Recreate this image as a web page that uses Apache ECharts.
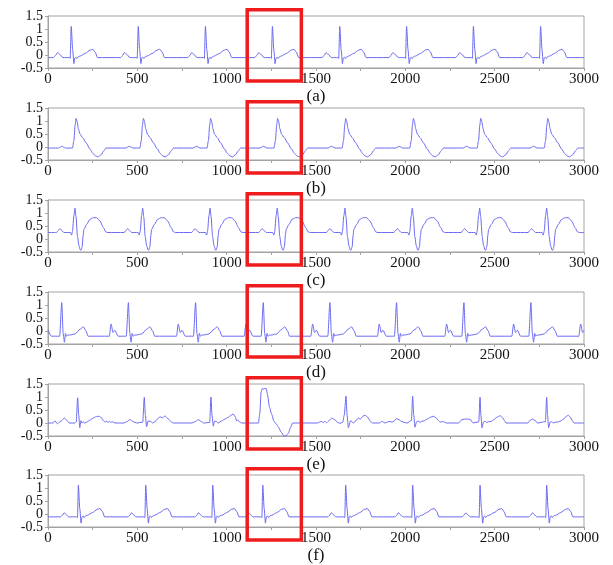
<!DOCTYPE html>
<html>
<head>
<meta charset="utf-8">
<script src="https://cdn.jsdelivr.net/npm/echarts@6/dist/echarts.min.js"></script>
<style>
html,body{margin:0;padding:0;background:#fff;}
#chart{width:613px;height:565px;}
</style>
</head>
<body>
<div id="chart"></div>
<script>
// ---- data ----
const panelLabels = ['(a)', '(b)', '(c)', '(d)', '(e)', '(f)'];
const xRange = [0, 3000];
const yRange = [-0.5, 1.5];
const xLabelStep = 500;
const xTickStep = 250;
const yTickStep = 0.5;
const highlightX = [1115, 1418];
const highlightY = [-1.0, 1.74];

const ecgA = [[0,-0.1],
[31,-0.1],[42,-0.02],[53,0.09],[65,0.03],[83,-0.1],[119,-0.1],[124,-0.13],[130,1.1],[138,0.2],[145,-0.33],[150,-0.12],[156,-0.08],[162,-0.14],[170,-0.06],[180,-0.04],[208,0.06],[236,0.19],[251,0.22],[264,0.11],[277,-0.1],
[406,-0.1],[417,-0.02],[428,0.09],[440,0.03],[458,-0.1],[494,-0.1],[499,-0.13],[505,1.1],[513,0.2],[520,-0.33],[525,-0.12],[531,-0.08],[537,-0.14],[545,-0.06],[555,-0.04],[583,0.06],[611,0.19],[626,0.22],[639,0.11],[652,-0.1],
[782,-0.1],[793,-0.02],[804,0.09],[816,0.03],[834,-0.1],[870,-0.1],[875,-0.13],[881,1.1],[889,0.2],[896,-0.33],[901,-0.12],[907,-0.08],[913,-0.14],[921,-0.06],[931,-0.04],[959,0.06],[987,0.19],[1002,0.22],[1015,0.11],[1028,-0.1],
[1157,-0.1],[1168,-0.02],[1179,0.09],[1191,0.03],[1209,-0.1],[1245,-0.1],[1250,-0.13],[1256,1.1],[1264,0.2],[1271,-0.33],[1276,-0.12],[1282,-0.08],[1288,-0.14],[1296,-0.06],[1306,-0.04],[1334,0.06],[1362,0.19],[1377,0.22],[1390,0.11],[1403,-0.1],
[1534,-0.1],[1545,-0.02],[1556,0.09],[1568,0.03],[1586,-0.1],[1622,-0.1],[1627,-0.13],[1633,1.1],[1641,0.2],[1648,-0.33],[1653,-0.12],[1659,-0.08],[1665,-0.14],[1673,-0.06],[1683,-0.04],[1711,0.06],[1739,0.19],[1754,0.22],[1767,0.11],[1780,-0.1],
[1908,-0.1],[1919,-0.02],[1930,0.09],[1942,0.03],[1960,-0.1],[1996,-0.1],[2001,-0.13],[2007,1.1],[2015,0.2],[2022,-0.33],[2027,-0.12],[2033,-0.08],[2039,-0.14],[2047,-0.06],[2057,-0.04],[2085,0.06],[2113,0.19],[2128,0.22],[2141,0.11],[2154,-0.1],
[2282,-0.1],[2293,-0.02],[2304,0.09],[2316,0.03],[2334,-0.1],[2370,-0.1],[2375,-0.13],[2381,1.1],[2389,0.2],[2396,-0.33],[2401,-0.12],[2407,-0.08],[2413,-0.14],[2421,-0.06],[2431,-0.04],[2459,0.06],[2487,0.19],[2502,0.22],[2515,0.11],[2528,-0.1],
[2658,-0.1],[2669,-0.02],[2680,0.09],[2692,0.03],[2710,-0.1],[2746,-0.1],[2751,-0.13],[2757,1.1],[2765,0.2],[2772,-0.33],[2777,-0.12],[2783,-0.08],[2789,-0.14],[2797,-0.06],[2807,-0.04],[2835,0.06],[2863,0.19],[2878,0.22],[2891,0.11],[2904,-0.1],
[3000,-0.1]];

const ecgB = [[0,-0.04],
[59,-0.04],[69,0.0],[77,0.03],[87,0.0],[97,-0.04],[137,-0.04],[145,0.25],[152,0.85],[157,1.1],[163,0.98],[170,0.7],[179,0.5],[194,0.36],[213,0.16],[235,-0.08],[252,-0.25],[265,-0.34],[279,-0.38],[297,-0.3],[312,-0.15],[325,-0.04],
[436,-0.04],[446,0.0],[454,0.03],[464,0.0],[474,-0.04],[514,-0.04],[522,0.25],[529,0.85],[534,1.1],[540,0.98],[547,0.7],[556,0.5],[571,0.36],[590,0.16],[612,-0.08],[629,-0.25],[642,-0.34],[656,-0.38],[674,-0.3],[689,-0.15],[702,-0.04],
[812,-0.04],[822,0.0],[830,0.03],[840,0.0],[850,-0.04],[890,-0.04],[898,0.25],[905,0.85],[910,1.1],[916,0.98],[923,0.7],[932,0.5],[947,0.36],[966,0.16],[988,-0.08],[1005,-0.25],[1018,-0.34],[1032,-0.38],[1050,-0.3],[1065,-0.15],[1078,-0.04],
[1187,-0.04],[1197,0.0],[1205,0.03],[1215,0.0],[1225,-0.04],[1265,-0.04],[1273,0.25],[1280,0.85],[1285,1.1],[1291,0.98],[1298,0.7],[1307,0.5],[1322,0.36],[1341,0.16],[1363,-0.08],[1380,-0.25],[1393,-0.34],[1407,-0.38],[1425,-0.3],[1440,-0.15],[1453,-0.04],
[1568,-0.04],[1578,0.0],[1586,0.03],[1596,0.0],[1606,-0.04],[1646,-0.04],[1654,0.25],[1661,0.85],[1666,1.1],[1672,0.98],[1679,0.7],[1688,0.5],[1703,0.36],[1722,0.16],[1744,-0.08],[1761,-0.25],[1774,-0.34],[1788,-0.38],[1806,-0.3],[1821,-0.15],[1834,-0.04],
[1947,-0.04],[1957,0.0],[1965,0.03],[1975,0.0],[1985,-0.04],[2025,-0.04],[2033,0.25],[2040,0.85],[2045,1.1],[2051,0.98],[2058,0.7],[2067,0.5],[2082,0.36],[2101,0.16],[2123,-0.08],[2140,-0.25],[2153,-0.34],[2167,-0.38],[2185,-0.3],[2200,-0.15],[2213,-0.04],
[2324,-0.04],[2334,0.0],[2342,0.03],[2352,0.0],[2362,-0.04],[2402,-0.04],[2410,0.25],[2417,0.85],[2422,1.1],[2428,0.98],[2435,0.7],[2444,0.5],[2459,0.36],[2478,0.16],[2500,-0.08],[2517,-0.25],[2530,-0.34],[2544,-0.38],[2562,-0.3],[2577,-0.15],[2590,-0.04],
[2699,-0.04],[2709,0.0],[2717,0.03],[2727,0.0],[2737,-0.04],[2777,-0.04],[2785,0.25],[2792,0.85],[2797,1.1],[2803,0.98],[2810,0.7],[2819,0.5],[2834,0.36],[2853,0.16],[2875,-0.08],[2892,-0.25],[2905,-0.34],[2919,-0.38],[2937,-0.3],[2952,-0.15],[2965,-0.04],
[3000,-0.04]];

const ecgC = [[0,0.25],
[48,0.25],[57,0.33],[67,0.4],[78,0.32],[89,0.25],[125,0.25],[132,0.15],[137,0.3],[145,0.9],[151,1.19],[157,0.85],[165,0.1],[173,-0.25],[181,-0.42],[185,-0.43],[191,-0.3],[197,0.15],[201,0.37],[216,0.56],[235,0.76],[254,0.82],[272,0.82],[291,0.69],[310,0.44],[324,0.27],[336,0.25],
[427,0.25],[436,0.33],[446,0.4],[457,0.32],[468,0.25],[504,0.25],[511,0.15],[516,0.3],[524,0.9],[530,1.19],[536,0.85],[544,0.1],[552,-0.25],[560,-0.42],[564,-0.43],[570,-0.3],[576,0.15],[580,0.37],[595,0.56],[614,0.76],[633,0.82],[651,0.82],[670,0.69],[689,0.44],[703,0.27],[715,0.25],
[804,0.25],[813,0.33],[823,0.4],[834,0.32],[845,0.25],[881,0.25],[888,0.15],[893,0.3],[901,0.9],[907,1.19],[913,0.85],[921,0.1],[929,-0.25],[937,-0.42],[941,-0.43],[947,-0.3],[953,0.15],[957,0.37],[972,0.56],[991,0.76],[1010,0.82],[1028,0.82],[1047,0.69],[1066,0.44],[1080,0.27],[1092,0.25],
[1180,0.25],[1189,0.33],[1199,0.4],[1210,0.32],[1221,0.25],[1257,0.25],[1264,0.15],[1269,0.3],[1277,0.9],[1283,1.19],[1289,0.85],[1297,0.1],[1305,-0.25],[1313,-0.42],[1317,-0.43],[1323,-0.3],[1329,0.15],[1333,0.37],[1348,0.56],[1367,0.76],[1386,0.82],[1404,0.82],[1423,0.69],[1442,0.44],[1456,0.27],[1468,0.25],
[1559,0.25],[1568,0.33],[1578,0.4],[1589,0.32],[1600,0.25],[1636,0.25],[1643,0.15],[1648,0.3],[1656,0.9],[1662,1.19],[1668,0.85],[1676,0.1],[1684,-0.25],[1692,-0.42],[1696,-0.43],[1702,-0.3],[1708,0.15],[1712,0.37],[1727,0.56],[1746,0.76],[1765,0.82],[1783,0.82],[1802,0.69],[1821,0.44],[1835,0.27],[1847,0.25],
[1936,0.25],[1945,0.33],[1955,0.4],[1966,0.32],[1977,0.25],[2013,0.25],[2020,0.15],[2025,0.3],[2033,0.9],[2039,1.19],[2045,0.85],[2053,0.1],[2061,-0.25],[2069,-0.42],[2073,-0.43],[2079,-0.3],[2085,0.15],[2089,0.37],[2104,0.56],[2123,0.76],[2142,0.82],[2160,0.82],[2179,0.69],[2198,0.44],[2212,0.27],[2224,0.25],
[2313,0.25],[2322,0.33],[2332,0.4],[2343,0.32],[2354,0.25],[2390,0.25],[2397,0.15],[2402,0.3],[2410,0.9],[2416,1.19],[2422,0.85],[2430,0.1],[2438,-0.25],[2446,-0.42],[2450,-0.43],[2456,-0.3],[2462,0.15],[2466,0.37],[2481,0.56],[2500,0.76],[2519,0.82],[2537,0.82],[2556,0.69],[2575,0.44],[2589,0.27],[2601,0.25],
[2688,0.25],[2697,0.33],[2707,0.4],[2718,0.32],[2729,0.25],[2765,0.25],[2772,0.15],[2777,0.3],[2785,0.9],[2791,1.19],[2797,0.85],[2805,0.1],[2813,-0.25],[2821,-0.42],[2825,-0.43],[2831,-0.3],[2837,0.15],[2841,0.37],[2856,0.56],[2875,0.76],[2894,0.82],[2912,0.82],[2931,0.69],[2950,0.44],[2964,0.27],[2976,0.25],
[3000,0.25]];

const ecgD = [[0,0.05],[19,-0.2],
[65,-0.2],[77,1.09],[85,-0.1],[92,-0.43],[98,-0.09],[104,-0.2],[110,-0.16],[127,-0.15],[152,-0.11],[180,0.07],[198,0.16],[213,0.0],[224,-0.2],
[343,-0.2],[353,0.27],[364,-0.06],[374,0.03],[392,-0.2],[438,-0.2],[450,1.09],[458,-0.1],[465,-0.43],[471,-0.09],[477,-0.2],[483,-0.16],[500,-0.15],[525,-0.11],[553,0.07],[571,0.16],[586,0.0],[597,-0.2],
[719,-0.2],[729,0.27],[740,-0.06],[750,0.03],[768,-0.2],[814,-0.2],[826,1.09],[834,-0.1],[841,-0.43],[847,-0.09],[853,-0.2],[859,-0.16],[876,-0.15],[901,-0.11],[929,0.07],[947,0.16],[962,0.0],[973,-0.2],
[1098,-0.2],[1108,0.27],[1119,-0.06],[1129,0.03],[1147,-0.2],[1193,-0.2],[1205,1.09],[1213,-0.1],[1220,-0.43],[1226,-0.09],[1232,-0.2],[1238,-0.16],[1255,-0.15],[1280,-0.11],[1308,0.07],[1326,0.16],[1341,0.0],[1352,-0.2],
[1471,-0.2],[1481,0.27],[1492,-0.06],[1502,0.03],[1520,-0.2],[1566,-0.2],[1578,1.09],[1586,-0.1],[1593,-0.43],[1599,-0.09],[1605,-0.2],[1611,-0.16],[1628,-0.15],[1653,-0.11],[1681,0.07],[1699,0.16],[1714,0.0],[1725,-0.2],
[1844,-0.2],[1854,0.27],[1865,-0.06],[1875,0.03],[1893,-0.2],[1939,-0.2],[1951,1.09],[1959,-0.1],[1966,-0.43],[1972,-0.09],[1978,-0.2],[1984,-0.16],[2001,-0.15],[2026,-0.11],[2054,0.07],[2072,0.16],[2087,0.0],[2098,-0.2],
[2221,-0.2],[2231,0.27],[2242,-0.06],[2252,0.03],[2270,-0.2],[2316,-0.2],[2328,1.09],[2336,-0.1],[2343,-0.43],[2349,-0.09],[2355,-0.2],[2361,-0.16],[2378,-0.15],[2403,-0.11],[2431,0.07],[2449,0.16],[2464,0.0],[2475,-0.2],
[2596,-0.2],[2606,0.27],[2617,-0.06],[2627,0.03],[2645,-0.2],[2691,-0.2],[2703,1.09],[2711,-0.1],[2718,-0.43],[2724,-0.09],[2730,-0.2],[2736,-0.16],[2753,-0.15],[2778,-0.11],[2806,0.07],[2824,0.16],[2839,0.0],[2850,-0.2],
[2971,-0.2],[2981,0.27],[2992,-0.06],[3000,0.02]];

const ecgE = [[0,0],[28,0],[39,0.09],[52,-0.03],[63,0.03],[75,0.08],[91,0.19],[103,0.12],[118,0.0],[150,0.0],[158,0.04],[166,0.97],[172,0.3],[178,-0.18],[184,0.09],[190,0.0],[197,0.05],[205,0.0],[218,0.04],[233,0.1],[248,0.17],[261,0.22],[272,0.25],[285,0.26],[300,0.2],[312,0.07],[320,0.04],[328,0.07],[336,0.02],[344,0.06],[352,0.02],[360,0.05],[375,0.0],
[425,0.0],[440,0.05],[459,0.13],[478,0.05],[496,0.0],[530,0.03],[539,0.99],[545,0.3],[552,-0.14],[560,0.07],[571,0.07],[586,0.0],[599,0.05],[612,0.15],[627,0.24],[640,0.2],[655,0.27],[674,0.15],[692,0.03],[702,0.0],
[805,0.0],[823,0.05],[841,0.13],[860,0.05],[870,0.0],[905,0.02],[912,1.0],[918,0.3],[925,-0.12],[932,0.07],[940,0.07],[953,0.0],[972,0.08],[990,0.15],[1009,0.22],[1025,0.3],[1037,0.35],[1047,0.25],[1056,0.08],[1063,0.12],[1071,0.05],[1084,0.0],
[1178,0.0],[1185,0.35],[1193,1.2],[1200,1.33],[1207,1.3],[1214,1.33],[1222,1.32],[1228,1.1],[1240,0.6],[1252,0.33],[1265,0.06],[1278,-0.04],[1289,-0.15],[1305,-0.35],[1321,-0.5],[1333,-0.49],[1345,-0.4],[1357,-0.18],[1369,0.0],
[1510,0.0],[1520,0.04],[1532,0.06],[1541,0.01],[1550,0.07],[1559,0.01],[1572,0.08],[1588,0.19],[1607,0.12],[1620,0.02],[1634,-0.01],[1649,0.02],[1658,0.3],[1668,1.03],[1674,0.3],[1681,-0.18],[1694,0.09],[1709,0.0],[1722,0.08],[1737,0.19],[1748,0.15],[1762,0.26],[1774,0.3],[1790,0.22],[1805,0.06],[1817,0.0],
[1855,0.0],[1868,0.06],[1886,0.0],[1900,0.04],[1914,0.06],[1926,0.03],[1938,0.08],[1951,0.17],[1965,0.12],[1979,0.06],[1994,0.02],[2010,0.0],[2034,0.1],[2041,1.03],[2047,0.3],[2054,-0.16],[2063,0.05],[2073,0.07],[2083,0.02],[2092,0.07],[2105,0.08],[2120,0.14],[2140,0.22],[2157,0.26],[2172,0.2],[2185,0.1],[2194,0.04],[2204,0.04],[2213,0.06],[2222,0.02],[2231,0.0],
[2298,0.0],[2315,0.12],[2330,0.15],[2348,0.15],[2362,0.14],[2380,0.0],[2411,0.05],[2418,0.99],[2423,0.3],[2429,-0.18],[2437,0.04],[2446,0.07],[2455,0.02],[2465,0.05],[2480,0.06],[2493,0.12],[2512,0.22],[2530,0.28],[2545,0.2],[2556,0.08],[2563,0.0],
[2685,0.0],[2698,0.1],[2711,0.15],[2726,0.1],[2739,0.0],[2784,0.05],[2791,0.99],[2796,0.3],[2802,-0.18],[2810,0.03],[2819,0.05],[2828,0.0],[2838,0.03],[2855,0.04],[2870,0.08],[2884,0.14],[2900,0.25],[2912,0.3],[2924,0.22],[2935,0.08],[2944,0.0],
[3000,0.0]];

const ecgF = [[0,-0.11],
[70,-0.11],[80,-0.05],[91,0.05],[102,-0.03],[115,-0.11],[159,-0.11],[165,-0.14],[170,1.11],[178,0.2],[185,-0.35],[190,-0.12],[196,-0.07],[202,-0.14],[210,-0.07],[220,-0.05],[248,0.05],[276,0.18],[291,0.21],[304,0.1],[317,-0.11],
[447,-0.11],[457,-0.05],[468,0.05],[479,-0.03],[492,-0.11],[536,-0.11],[542,-0.14],[547,1.11],[555,0.2],[562,-0.35],[567,-0.12],[573,-0.07],[579,-0.14],[587,-0.07],[597,-0.05],[625,0.05],[653,0.18],[668,0.21],[681,0.1],[694,-0.11],
[822,-0.11],[832,-0.05],[843,0.05],[854,-0.03],[867,-0.11],[911,-0.11],[917,-0.14],[922,1.11],[930,0.2],[937,-0.35],[942,-0.12],[948,-0.07],[954,-0.14],[962,-0.07],[972,-0.05],[1000,0.05],[1028,0.18],[1043,0.21],[1056,0.1],[1069,-0.11],
[1102,-0.11],[1112,-0.05],[1123,0.05],[1134,-0.03],[1147,-0.11],[1191,-0.11],[1197,-0.14],[1202,1.11],[1210,0.2],[1217,-0.35],[1222,-0.12],[1228,-0.07],[1234,-0.14],[1242,-0.07],[1252,-0.05],[1280,0.05],[1308,0.18],[1323,0.21],[1336,0.1],[1349,-0.11],
[1566,-0.11],[1576,-0.05],[1587,0.05],[1598,-0.03],[1611,-0.11],[1655,-0.11],[1661,-0.14],[1666,1.11],[1674,0.2],[1681,-0.35],[1686,-0.12],[1692,-0.07],[1698,-0.14],[1706,-0.07],[1716,-0.05],[1744,0.05],[1772,0.18],[1787,0.21],[1800,0.1],[1813,-0.11],
[1941,-0.11],[1951,-0.05],[1962,0.05],[1973,-0.03],[1986,-0.11],[2030,-0.11],[2036,-0.14],[2041,1.11],[2049,0.2],[2056,-0.35],[2061,-0.12],[2067,-0.07],[2073,-0.14],[2081,-0.07],[2091,-0.05],[2119,0.05],[2147,0.18],[2162,0.21],[2175,0.1],[2188,-0.11],
[2318,-0.11],[2328,-0.05],[2339,0.05],[2350,-0.03],[2363,-0.11],[2407,-0.11],[2413,-0.14],[2418,1.11],[2426,0.2],[2433,-0.35],[2438,-0.12],[2444,-0.07],[2450,-0.14],[2458,-0.07],[2468,-0.05],[2496,0.05],[2524,0.18],[2539,0.21],[2552,0.1],[2565,-0.11],
[2691,-0.11],[2701,-0.05],[2712,0.05],[2723,-0.03],[2736,-0.11],[2780,-0.11],[2786,-0.14],[2791,1.11],[2799,0.2],[2806,-0.35],[2811,-0.12],[2817,-0.07],[2823,-0.14],[2831,-0.07],[2841,-0.05],[2869,0.05],[2897,0.18],[2912,0.21],[2925,0.1],[2938,-0.11],
[3000,-0.11]];

const panelSeries = [ecgA, ecgB, ecgC, ecgD, ecgE, ecgF];

// ---- layout / style ----
const gridTops = [16, 108, 200, 292, 384, 475];
const gridHeight = 52;
const serif = 'Liberation Serif';
const lineColor = '#6a6af2';
const frameColor = '#a3a3a3';

const grids = [], xAxes = [], yAxes = [], series = [];
const yLabelStyle = {fontFamily: serif, fontSize: 14, color: '#111', margin: 5, lineHeight: 12,
  showMinLabel: true, showMaxLabel: true, hideOverlap: false};
panelSeries.forEach((data, i) => {
  grids.push({left: 48, right: 29, top: gridTops[i], height: gridHeight,
    show: true, borderColor: frameColor, borderWidth: 1, backgroundColor: 'transparent'});
  xAxes.push({
    type: 'value', gridIndex: i, min: xRange[0], max: xRange[1], interval: xTickStep,
    name: panelLabels[i], nameLocation: 'middle', nameGap: 18,
    nameTextStyle: {fontFamily: serif, fontSize: 17, color: '#111'},
    axisLine: {show: true, onZero: false, lineStyle: {color: frameColor, width: 1}},
    axisTick: {show: true, inside: false, length: 3, lineStyle: {color: frameColor}},
    splitLine: {show: false},
    axisLabel: {fontFamily: serif, fontSize: 15, color: '#111', margin: 4,
      showMinLabel: true, showMaxLabel: true,
      formatter: v => (v % xLabelStep === 0 ? String(v) : '')}
  });
  // main y axis: labels at odd half-steps (1.5, 0.5, -0.5)
  yAxes.push({
    type: 'value', gridIndex: i, min: yRange[0], max: yRange[1], interval: yTickStep,
    axisLine: {show: true, onZero: false, lineStyle: {color: frameColor, width: 1}},
    axisTick: {show: true, inside: false, length: 3, lineStyle: {color: frameColor}},
    splitLine: {show: false},
    axisLabel: Object.assign({}, yLabelStyle, {formatter: v => (Math.abs(v % 1) > 0.25 ? String(v) : '')})
  });
  // companion y axis carrying the integer labels (1, 0) so tight labels are not culled
  yAxes.push({
    type: 'value', gridIndex: i, position: 'left', offset: 0,
    min: yRange[0], max: yRange[1], interval: yTickStep,
    axisLine: {show: false, onZero: false}, axisTick: {show: false}, splitLine: {show: false},
    axisLabel: Object.assign({}, yLabelStyle, {formatter: v => (Math.abs(v % 1) < 0.25 ? String(v) : '')})
  });
  series.push({
    type: 'line', xAxisIndex: i, yAxisIndex: 2 * i, data: data,
    showSymbol: false, symbol: 'none', smooth: 0.25, smoothMonotone: 'x',
    lineStyle: {color: lineColor, width: 1}, z: 2, silent: true
  });
  series.push({
    type: 'line', xAxisIndex: i, yAxisIndex: 2 * i, clip: false,
    data: [[highlightX[0], highlightY[1]], [highlightX[1], highlightY[1]],
           [highlightX[1], highlightY[0]], [highlightX[0], highlightY[0]],
           [highlightX[0], highlightY[1]]],
    showSymbol: false, symbol: 'none', smooth: false,
    lineStyle: {color: '#ee1c1c', width: 3.5, join: 'miter', cap: 'square'}, z: 10, silent: true
  });
});

const chart = echarts.init(document.getElementById('chart'), null, {renderer: 'canvas'});
chart.setOption({
  animation: false,
  backgroundColor: '#ffffff',
  grid: grids, xAxis: xAxes, yAxis: yAxes, series: series
});
</script>
</body>
</html>
